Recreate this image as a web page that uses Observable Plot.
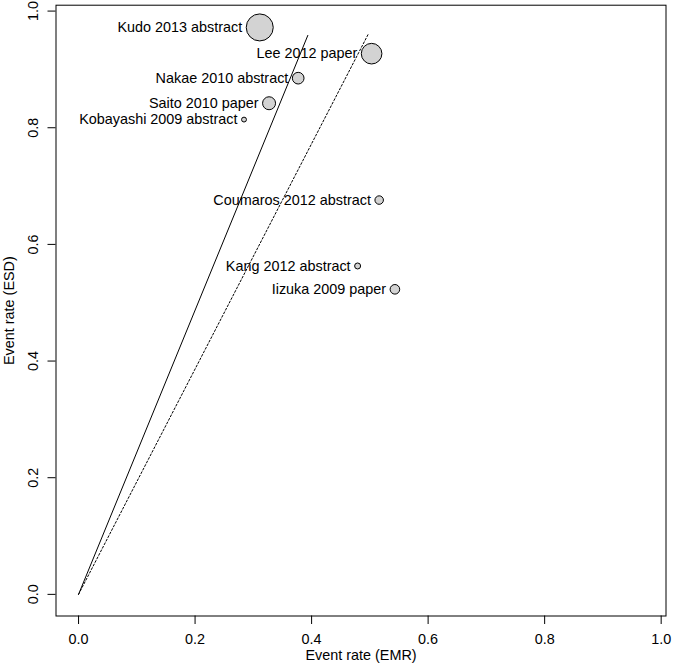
<!DOCTYPE html>
<html>
<head>
<meta charset="utf-8">
<script src="https://cdn.jsdelivr.net/npm/d3@7"></script>
<script src="https://cdn.jsdelivr.net/npm/@observablehq/plot@0.6"></script>
<style>
  html, body { margin: 0; padding: 0; background: #fff; }
  svg { display: block; }
</style>
</head>
<body>
<div id="chart"></div>
<script>
// ---- data ----
const studies = [
  "Kudo 2013 abstract", "Lee 2012 paper", "Nakae 2010 abstract", "Saito 2010 paper",
  "Kobayashi 2009 abstract", "Coumaros 2012 abstract", "Kang 2012 abstract", "Iizuka 2009 paper"
];
const emrRate = [0.311, 0.503, 0.377, 0.327, 0.284, 0.516, 0.479, 0.543];
const esdRate = [0.972, 0.927, 0.885, 0.842, 0.814, 0.676, 0.563, 0.523];
const studyWeight = [182, 106, 34, 42, 6, 18, 9, 23];

const solidLineX = [0, 0.3935];
const solidLineY = [0, 0.9583];
const dottedLineX = [0, 0.4982];
const dottedLineY = [0, 0.9623];

const xTicks = [0, 0.2, 0.4, 0.6, 0.8, 1.0];
const xTickLabels = ["0.0", "0.2", "0.4", "0.6", "0.8", "1.0"];
const yTicks = [0, 0.2, 0.4, 0.6, 0.8, 1.0];
const yTickLabels = ["0.0", "0.2", "0.4", "0.6", "0.8", "1.0"];

const xTitle = "Event rate (EMR)";
const yTitle = "Event rate (ESD)";

// ---- build ----
const rows = studies.map((s, i) => ({ study: s, x: emrRate[i], y: esdRate[i], w: studyWeight[i] }));
const solidLine = solidLineX.map((x, i) => ({ x, y: solidLineY[i] }));
const dottedLine = dottedLineX.map((x, i) => ({ x, y: dottedLineY[i] }));
const yTickRows = yTicks.map((v, i) => ({ v, label: yTickLabels[i] }));

const rDomain = [0, d3.max(studyWeight)];
const rRange = [0, 13.5];
const rScale = d3.scaleSqrt().domain(rDomain).range(rRange);

const font = "'Liberation Sans', Arial, Helvetica, sans-serif";

const labelMarks = rows.map(d => Plot.text([d], {
  x: "x", y: "y", text: "study",
  textAnchor: "end", dx: -(rScale(d.w) + 4), fill: "black", fontSize: 14.4
}));

const chart = Plot.plot({
  width: 673,
  height: 669,
  marginLeft: 55.5,
  marginRight: 7.5,
  marginTop: 4.7,
  marginBottom: 53.5,
  x: { domain: [-0.0387, 1.0083] },
  y: { domain: [-0.0371, 1.0101] },
  r: { type: "sqrt", domain: rDomain, range: rRange },
  style: { fontFamily: font, fontSize: "14.4px", color: "black", background: "white", overflow: "visible" },
  marks: [
    Plot.frame({ stroke: "black", strokeWidth: 1 }),
    Plot.axisX(xTicks, {
      tickSize: 8.5, tickPadding: 9, label: null,
      tickFormat: d => xTickLabels[xTicks.indexOf(d)],
      fontSize: 14.4, stroke: "black"
    }),
    Plot.axisY(yTicks, {
      tickSize: 8, label: null, tickFormat: () => "", stroke: "black"
    }),
    Plot.text(yTickRows, {
      y: "v", text: "label", frameAnchor: "left", dx: -22.5,
      rotate: -90, textAnchor: "middle", lineAnchor: "middle", fontSize: 14.4, fill: "black"
    }),
    Plot.text([xTitle], {
      text: d => d, frameAnchor: "bottom", dy: 39.5, textAnchor: "middle",
      lineAnchor: "middle", fontSize: 14.4, fill: "black"
    }),
    Plot.text([yTitle], {
      text: d => d, frameAnchor: "left", dx: -46.5, rotate: -90,
      textAnchor: "middle", lineAnchor: "middle", fontSize: 14.4, fill: "black"
    }),
    Plot.line(solidLine, { x: "x", y: "y", stroke: "black", strokeWidth: 1 }),
    Plot.line(dottedLine, { x: "x", y: "y", stroke: "black", strokeWidth: 1, strokeDasharray: "2,2" }),
    ...labelMarks,
    Plot.dot(rows, { x: "x", y: "y", r: "w", fill: "#d3d3d3", stroke: "black", strokeWidth: 1 })
  ]
});

document.getElementById("chart").appendChild(chart);
</script>
</body>
</html>
